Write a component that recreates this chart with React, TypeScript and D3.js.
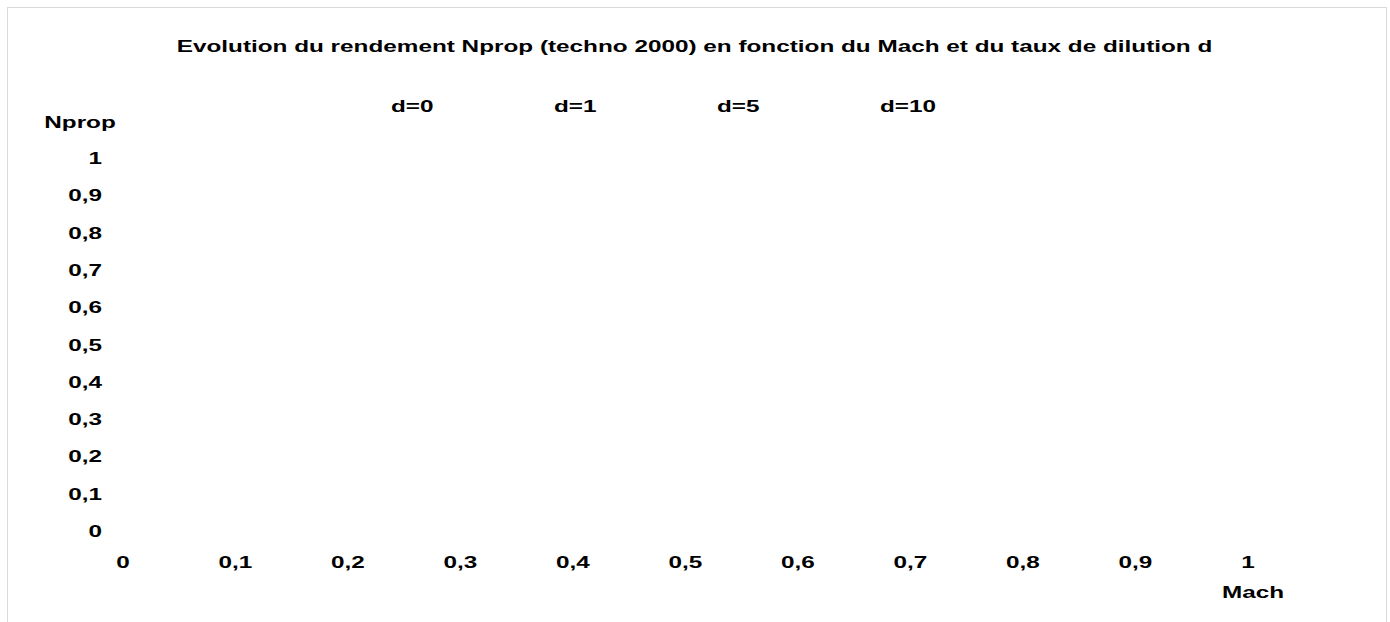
import React, { useEffect, useRef } from 'react'
import * as d3 from 'd3'

const title = 'Evolution du rendement Nprop (techno 2000) en fonction du Mach et du taux de dilution d'
const seriesNames = ['d=0', 'd=1', 'd=5', 'd=10']
// the series carry no visible points in the picture
const seriesValues: number[][] = [[], [], [], []]
const xTicks = [0, 0.1, 0.2, 0.3, 0.4, 0.5, 0.6, 0.7, 0.8, 0.9, 1]
const yTicks = [0, 0.1, 0.2, 0.3, 0.4, 0.5, 0.6, 0.7, 0.8, 0.9, 1]

const W = 1390
const H = 622
const SX = 1.43 // text in the original is stretched sideways
const fmt = (v: number) => String(v).replace('.', ',')

const App = () => {
  const svgRef = useRef<SVGSVGElement | null>(null)

  useEffect(() => {
    const svg = d3.select(svgRef.current)
    svg.selectAll('*').remove()

    const font = '"Liberation Sans", Arial, sans-serif'
    const place = (x: number, y: number) => `translate(${x},${y}) scale(${SX},1)`

    // outer frame
    svg
      .append('rect')
      .attr('x', 7.5)
      .attr('y', 7.5)
      .attr('width', 1379)
      .attr('height', 640)
      .attr('fill', 'white')
      .attr('stroke', '#d9d9d9')
      .attr('stroke-width', 1)

    const x = d3.scaleLinear().domain([0, 1]).range([123, 1248])
    const y = d3.scaleLinear().domain([0, 1]).range([531, 158])

    const g = svg
      .append('g')
      .style('font-family', font)
      .style('font-weight', 'bold')
      .style('font-size', '17px')
      .attr('fill', '#000')

    g.append('text')
      .attr('transform', place(694.5, 46))
      .attr('text-anchor', 'middle')
      .attr('dominant-baseline', 'central')
      .text(title)

    // legend: names only
    const legendX = d3.scalePoint().domain(seriesNames).range([391, 880])
    g.selectAll('.legend')
      .data(seriesNames)
      .enter()
      .append('text')
      .attr('class', 'legend')
      .attr('transform', (d) => place(legendX(d) as number, 106))
      .attr('dominant-baseline', 'central')
      .text((d) => d)

    g.append('text')
      .attr('transform', place(80, 122))
      .attr('text-anchor', 'middle')
      .attr('dominant-baseline', 'central')
      .text('Nprop')

    g.selectAll('.ytick')
      .data(yTicks)
      .enter()
      .append('text')
      .attr('class', 'ytick')
      .attr('transform', (d) => place(102, y(d)))
      .attr('text-anchor', 'end')
      .attr('dominant-baseline', 'central')
      .text((d) => fmt(d))

    g.selectAll('.xtick')
      .data(xTicks)
      .enter()
      .append('text')
      .attr('class', 'xtick')
      .attr('transform', (d) => place(x(d), 562))
      .attr('text-anchor', 'middle')
      .attr('dominant-baseline', 'central')
      .text((d) => fmt(d))

    g.append('text')
      .attr('transform', place(1253, 592))
      .attr('text-anchor', 'middle')
      .attr('dominant-baseline', 'central')
      .text('Mach')

    // series lines (none visible)
    const line = d3
      .line<number>()
      .x((_, i) => x(xTicks[i]))
      .y((d) => y(d))
    svg
      .selectAll('.series')
      .data(seriesValues)
      .enter()
      .append('path')
      .attr('class', 'series')
      .attr('fill', 'none')
      .attr('stroke', '#000')
      .attr('d', (d) => (d.length ? line(d) : null))
  }, [])

  return (
    <svg
      ref={svgRef}
      width={W}
      height={H}
      style={{ position: 'absolute', left: 0, top: 0, display: 'block' }}
    ></svg>
  )
}

export default App
